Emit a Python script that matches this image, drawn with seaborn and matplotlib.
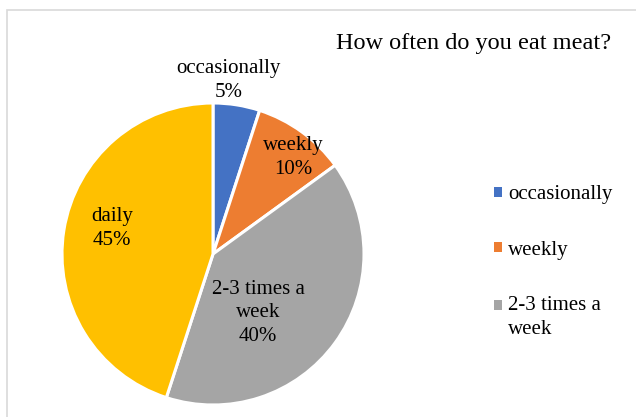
import matplotlib
matplotlib.use("Agg")
import matplotlib.pyplot as plt
from matplotlib.patches import Patch, Rectangle
from matplotlib.legend_handler import HandlerPatch
import seaborn as sns

# Survey answers: how often respondents eat meat (percent)
categories = ["occasionally", "weekly", "2-3 times a week", "daily"]
shares = [5, 10, 40, 45]
label_lines = ["occasionally", "weekly", "2-3 times a\nweek", "daily"]
legend_count = 3

colors = ["#4472C4", "#ED7D31", "#A5A5A5", "#FFC000"]
# data-label anchor points in pie coordinates (radius = 1)
label_pos = [(0.105, 1.15), (0.53, 0.64), (0.30, -0.39), (-0.67, 0.17)]

sns.set_theme(style="white")
plt.rcParams["font.family"] = ["Liberation Serif", "DejaVu Serif"]

fig = plt.figure(figsize=(6.36, 4.17), dpi=100)

# thin grey frame around the chart area
fig.patches.append(Rectangle((7 / 636, -0.2), 1.2, 1.2 - 10 / 417,
                             transform=fig.transFigure, fill=False,
                             edgecolor="#d9d9d9", linewidth=1.2))

ax = fig.add_axes([62 / 636, 12 / 417, 302 / 636, 302 / 417])
wedges, _ = ax.pie(shares, colors=colors, startangle=90, counterclock=False,
                   wedgeprops=dict(edgecolor="white", linewidth=2.2))
ax.set_xlim(-1, 1)
ax.set_ylim(-1, 1)
ax.set_aspect("equal")
ax.axis("off")

for (x, y), name, pct in zip(label_pos, label_lines, shares):
    ax.text(x, y, f"{name}\n{pct}%", ha="center", va="center",
            fontsize=15, color="black", linespacing=1.32, clip_on=False)

fig.text(474 / 636, 1 - 43 / 417, "How often do you eat meat?",
         ha="center", va="center", fontsize=17.5, color="black")


class FirstLineHandler(HandlerPatch):
    """Square legend key lined up with the first line of a wrapped label."""

    def __init__(self, lift=0.0):
        super().__init__()
        self.lift = lift

    def create_artists(self, legend, orig_handle, xdescent, ydescent,
                       width, height, fontsize, trans):
        p = Rectangle((-xdescent, -ydescent + self.lift), width, height,
                      facecolor=orig_handle.get_facecolor(), edgecolor="none",
                      transform=trans)
        return [p]


handles = [Patch(facecolor=c, edgecolor="none") for c in colors[:legend_count]]
hmap = {h: FirstLineHandler(9.0 if "\n" in lab else 0.0)
        for h, lab in zip(handles, label_lines[:legend_count])}
leg = fig.legend(handles, label_lines[:legend_count], loc="upper left",
                 bbox_to_anchor=(484 / 636, 1 - 175 / 417), frameon=False,
                 handlelength=0.35, handleheight=0.35,
                 handletextpad=0.3, labelspacing=1.75, borderpad=0,
                 labelcolor="black", handler_map=hmap,
                 prop=dict(family="Liberation Serif", size=15))
for t in leg.get_texts():
    t.set_linespacing(1.32)

fig.savefig("out.png", dpi=100, facecolor="white")
